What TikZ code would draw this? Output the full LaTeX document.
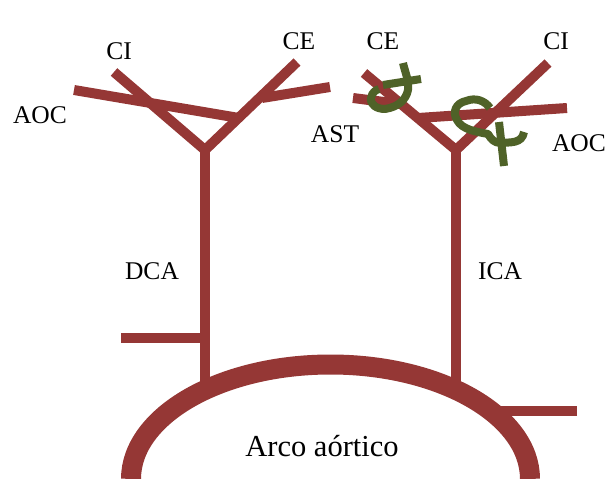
\documentclass[tikz,border=0pt]{standalone}
\usepackage{xcolor}
\usepackage{fontspec}
\setmainfont{Liberation Serif}
\definecolor{vessel}{HTML}{953735}
\definecolor{ligature}{HTML}{4F6228}
\tikzset{
  artery/.style={draw=vessel, line width=10pt},
  arch/.style={draw=vessel, line width=20pt},
  suture/.style={draw=ligature, line width=8pt, line join=round},
  tag/.style={font=\fontsize{25.5}{25.5}\selectfont, inner sep=0pt, text=black},
}
\begin{document}
\begin{tikzpicture}[x=1pt, y=-1pt]
  \useasboundingbox (0,0) rectangle (606,479);

  % Branch points and free ends, left side
  \coordinate (rootL) at (205,385);
  \coordinate (forkL) at (205,150);
  \coordinate (ciL) at (114,72);
  \coordinate (ceL) at (297,62);
  \coordinate (aocL) at (74,90);
  \coordinate (aocjoinL) at (239,118);
  \coordinate (astL) at (330,87);
  \coordinate (astjoinL) at (262,98);
  \coordinate (stubL) at (121,338);
  \coordinate (stubjoinL) at (205,338);

  % Branch points and free ends, right side
  \coordinate (rootR) at (456,388);
  \coordinate (forkR) at (456,150);
  \coordinate (ceR) at (364,73);
  \coordinate (ciR) at (548,63);
  \coordinate (aocR) at (567,108);
  \coordinate (aocjoinR) at (418,118);
  \coordinate (astR) at (353,98);
  \coordinate (astjoinR) at (400,104);
  \coordinate (stubR) at (577,411);
  \coordinate (stubjoinR) at (495,411);

  % Arch
  \coordinate (archL) at (131,479);
  \draw[arch] (archL) arc[start angle=180, end angle=0, x radius=199.5, y radius=-114.5];

  % Left tree
  \draw[artery] (rootL) -- (forkL);
  \draw[artery] (ciL) -- (forkL) -- (ceL);
  \draw[artery] (aocL) -- (aocjoinL);
  \draw[artery] (astL) -- (astjoinL);
  \draw[artery] (stubL) -- (stubjoinL);

  % Right tree
  \draw[artery] (rootR) -- (forkR);
  \draw[artery] (ceR) -- (forkR) -- (ciR);
  \draw[artery] (aocR) -- (aocjoinR);
  \draw[artery] (astR) -- (astjoinR);
  \draw[artery] (stubR) -- (stubjoinR);

  % Ligatures
  \draw[suture] (403,63) .. controls (405,72) and (409,80) .. (408,90)
    .. controls (406,100) and (398,107) .. (385,109)
    .. controls (377,109) and (370,105) .. (371,98)
    .. controls (372,92) and (376,90) .. (379,89);
  \draw[suture] (383,85) -- (421,79);
  \draw[suture] (490,108) .. controls (485,101) and (476,97) .. (466,101)
    .. controls (456,103) and (452,112) .. (457,120)
    .. controls (462,130) and (478,132) .. (488,134)
    .. controls (491,139) and (494,143) .. (501,143)
    .. controls (510,142) and (522,144) .. (524,132);
  \draw[suture] (499,122) -- (504,166);

  % Labels
  \node[tag] (labelCIL) at (119,51) {CI};
  \node[tag] (labelCEL) at (299,41) {CE};
  \node[tag] (labelAOCL) at (40,115) {AOC};
  \node[tag] (labelAST) at (335,134) {AST};
  \node[tag] (labelCER) at (383,41) {CE};
  \node[tag] (labelCIR) at (556,41) {CI};
  \node[tag] (labelAOCR) at (579,143) {AOC};
  \node[tag] (labelDCA) at (152,271) {DCA};
  \node[tag] (labelICA) at (500,271) {ICA};
  \node[tag, font=\fontsize{30.5}{30.5}\selectfont] (labelArco) at (322,446) {Arco aórtico};
\end{tikzpicture}
\end{document}
